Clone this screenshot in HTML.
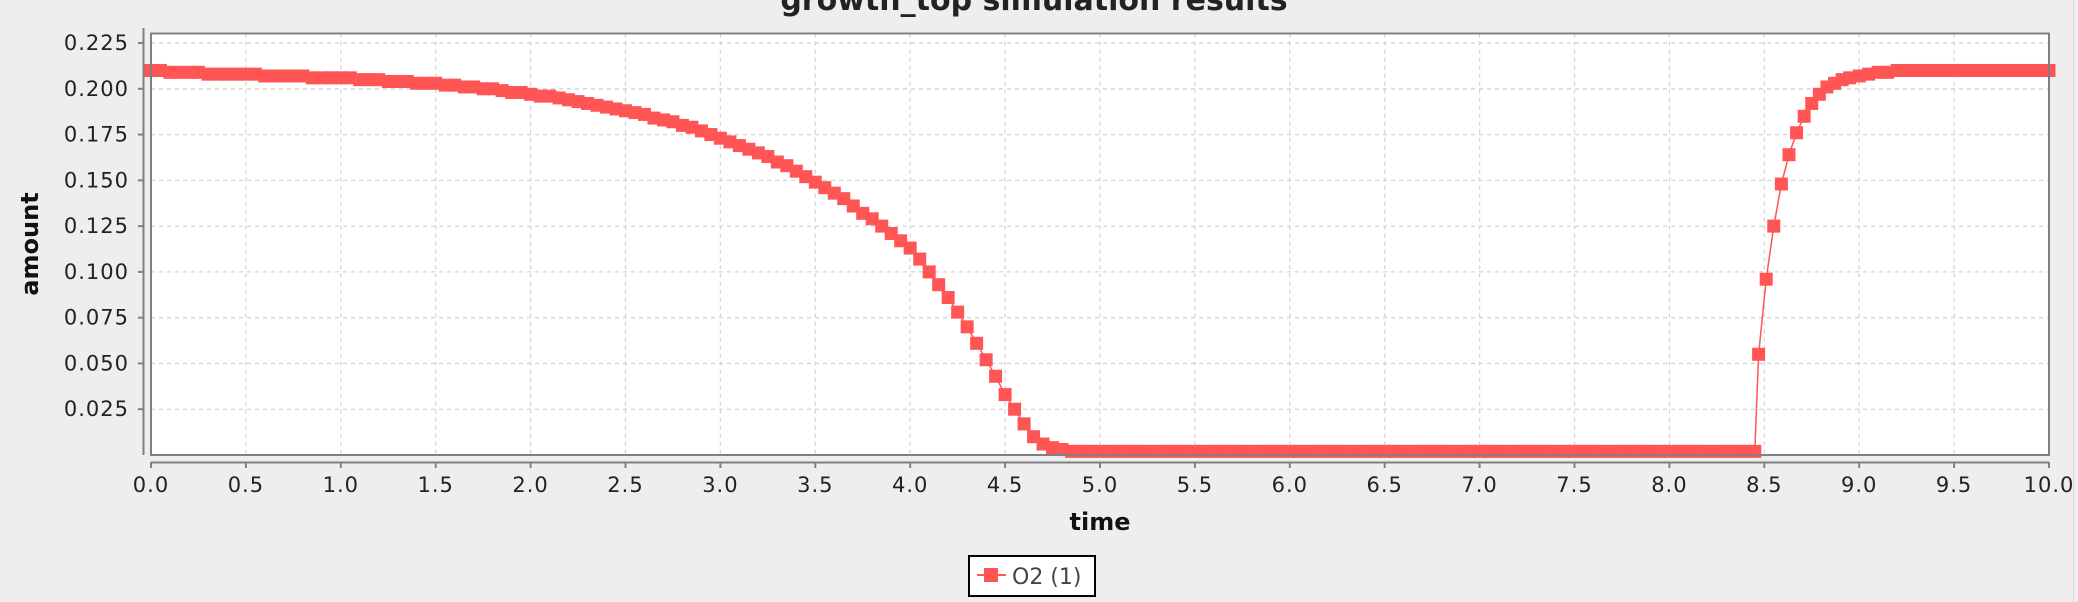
<!DOCTYPE html>
<html><head><meta charset="utf-8"><style>
html,body{margin:0;padding:0;background:#eeeeee;width:2078px;height:602px;overflow:hidden;font-family:"Liberation Sans","DejaVu Sans",sans-serif}
svg{display:block}
</style></head><body>
<svg id="chart" width="2078" height="602" xmlns="http://www.w3.org/2000/svg">
<rect x="0" y="0" width="2078" height="602" fill="#eeeeee"/>
<line x1="2073.5" y1="0" x2="2073.5" y2="602" stroke="#d8d8d8" stroke-width="1"/>
<text x="1034" y="10" text-anchor="middle" font-family="DejaVu Sans, sans-serif" font-weight="bold" font-size="30" fill="#222">growth_top simulation results</text>
<rect x="151" y="33.5" width="1898" height="421.5" fill="#ffffff"/>
<g id="grid"></g>
<g id="series"></g>
<rect x="151" y="33.5" width="1898" height="421.5" fill="none" stroke="#808080" stroke-width="2"/>
<g id="axes"></g>
<text x="1100" y="530" text-anchor="middle" font-family="DejaVu Sans, sans-serif" font-weight="bold" font-size="24" fill="#111">time</text>
<text transform="translate(38,244) rotate(-90)" text-anchor="middle" font-family="DejaVu Sans, sans-serif" font-weight="bold" font-size="24" fill="#111">amount</text>
<g>
<rect x="969" y="556" width="126" height="40" fill="#ffffff" stroke="#000" stroke-width="2"/>
<line x1="977" y1="575" x2="1006" y2="575" stroke="#ff5555" stroke-width="2"/>
<rect x="984" y="568" width="14" height="14" fill="#ff5555"/>
<text x="1012" y="584" font-family="DejaVu Sans, sans-serif" font-size="22" fill="#444">O2 (1)</text>
</g>
</svg>
<script>
const xTicks = [0,0.5,1,1.5,2,2.5,3,3.5,4,4.5,5,5.5,6,6.5,7,7.5,8,8.5,9,9.5,10];
const xTickLabels = ["0.0","0.5","1.0","1.5","2.0","2.5","3.0","3.5","4.0","4.5","5.0","5.5","6.0","6.5","7.0","7.5","8.0","8.5","9.0","9.5","10.0"];
const yTicks = [0.025,0.05,0.075,0.1,0.125,0.15,0.175,0.2,0.225];
const yTickLabels = ["0.025","0.050","0.075","0.100","0.125","0.150","0.175","0.200","0.225"];
const fallValues = [
.210,.210,.209,.209,.209,.209,.208,.208,.208,.208,
.208,.208,.207,.207,.207,.207,.207,.206,.206,.206,
.206,.206,.205,.205,.205,.204,.204,.204,.203,.203,
.203,.202,.202,.201,.201,.200,.200,.199,.198,.198,
.197,.196,.196,.195,.194,.193,.192,.191,.190,.189,
.188,.187,.186,.184,.183,.182,.180,.179,.177,.175,
.173,.171,.169,.167,.165,.163,.160,.158,.155,.152,
.149,.146,.143,.140,.136,.132,.129,.125,.121,.117,
.113,.107,.100,.093,.086,.078,.070,.061,.052,.043,
.033,.025,.017,.010,.006,.004,.003,.002,.002,.002,
.002,.002,.002,.002,.002,.002,.002,.002,.002,.002,
.002,.002,.002,.002,.002,.002,.002,.002,.002,.002,
.002,.002,.002,.002,.002,.002,.002,.002,.002,.002,
.002,.002,.002,.002,.002,.002,.002,.002,.002,.002,
.002,.002,.002,.002,.002,.002,.002,.002,.002,.002,
.002,.002,.002,.002,.002,.002,.002,.002,.002,.002,
.002,.002,.002,.002,.002,.002,.002,.002,.002,.002];
const riseTimes = [8.47,8.51,8.55,8.59,8.63,8.67,8.71,8.75,8.79,8.83,8.87,8.91,8.95,9.0,9.05,9.1,9.15,9.2,9.25,9.3,9.35,9.4,9.45,9.5,9.55,9.6,9.65,9.7,9.75,9.8,9.85,9.9,9.95,10.0];
const riseValues = [.055,.096,.125,.148,.164,.176,.185,.192,.197,.201,.203,.205,.206,.207,.208,.209,.209,.210,.210,.210,.210,.210,.210,.210,.210,.210,.210,.210,.210,.210,.210,.210,.210,.210];

const PL=151, PR=2049, PT=33.5, PB=455, YMAX=0.2302;
const sx = t => PL + t/10*(PR-PL);
const sy = v => PB - v/YMAX*(PB-PT);
const NS="http://www.w3.org/2000/svg";
function mk(tag, attrs){const e=document.createElementNS(NS,tag);for(const k in attrs)e.setAttribute(k,attrs[k]);return e;}

const grid=document.getElementById('grid');
xTicks.forEach((t,i)=>{ if(t===0||t===10) return;
  const l=mk('line',{x1:sx(t),x2:sx(t),y1:PT,y2:PB,stroke:'#d4d4d4','stroke-width':1.3,'stroke-dasharray':'4,4'});
  
  
  grid.appendChild(l);});
yTicks.forEach(v=>{
  const l=mk('line',{x1:PL,x2:PR,y1:sy(v),y2:sy(v),stroke:'#d4d4d4','stroke-width':1.3,'stroke-dasharray':'4,4'});
  
  
  grid.appendChild(l);});

const axes=document.getElementById('axes');
const xa=mk('line',{x1:PL,x2:PR,y1:462.5,y2:462.5,stroke:'#808080','stroke-width':2});


axes.appendChild(xa);
const ya=mk('line',{x1:143.5,x2:143.5,y1:28,y2:PB,stroke:'#808080','stroke-width':2});


axes.appendChild(ya);
xTicks.forEach((t,i)=>{
  const tk=mk('line',{x1:sx(t),x2:sx(t),y1:462,y2:468,stroke:'#808080','stroke-width':2});
  
  
  axes.appendChild(tk);
  const tx=mk('text',{x:sx(t),y:492,'text-anchor':'middle','font-size':21,fill:'#222','font-family':'DejaVu Sans, sans-serif','letter-spacing':'1'});
  tx.textContent=xTickLabels[i];
  
  
  axes.appendChild(tx);});
yTicks.forEach((v,i)=>{
  const tk=mk('line',{x1:138,x2:144,y1:sy(v),y2:sy(v),stroke:'#808080','stroke-width':2});
  
  
  axes.appendChild(tk);
  const tx=mk('text',{x:129,y:sy(v)+7,'text-anchor':'end','font-size':21,fill:'#222','font-family':'DejaVu Sans, sans-serif','letter-spacing':'1'});
  tx.textContent=yTickLabels[i];
  
  
  axes.appendChild(tx);});

const pts=[];
fallValues.forEach((v,i)=>pts.push([i*0.05,v]));
riseTimes.forEach((t,i)=>pts.push([t,riseValues[i]]));
const ser=document.getElementById('series');
const pl=mk('polyline',{points:pts.map(p=>sx(p[0])+','+sy(p[1])).join(' '),fill:'none',stroke:'#ff5555','stroke-width':1.5});


ser.appendChild(pl);
pts.forEach(p=>{
  const r=mk('rect',{x:sx(p[0])-6.5,y:sy(p[1])-6.5,width:13,height:13,fill:'#ff5555'});
  
  
  ser.appendChild(r);});
</script>
</body></html>
